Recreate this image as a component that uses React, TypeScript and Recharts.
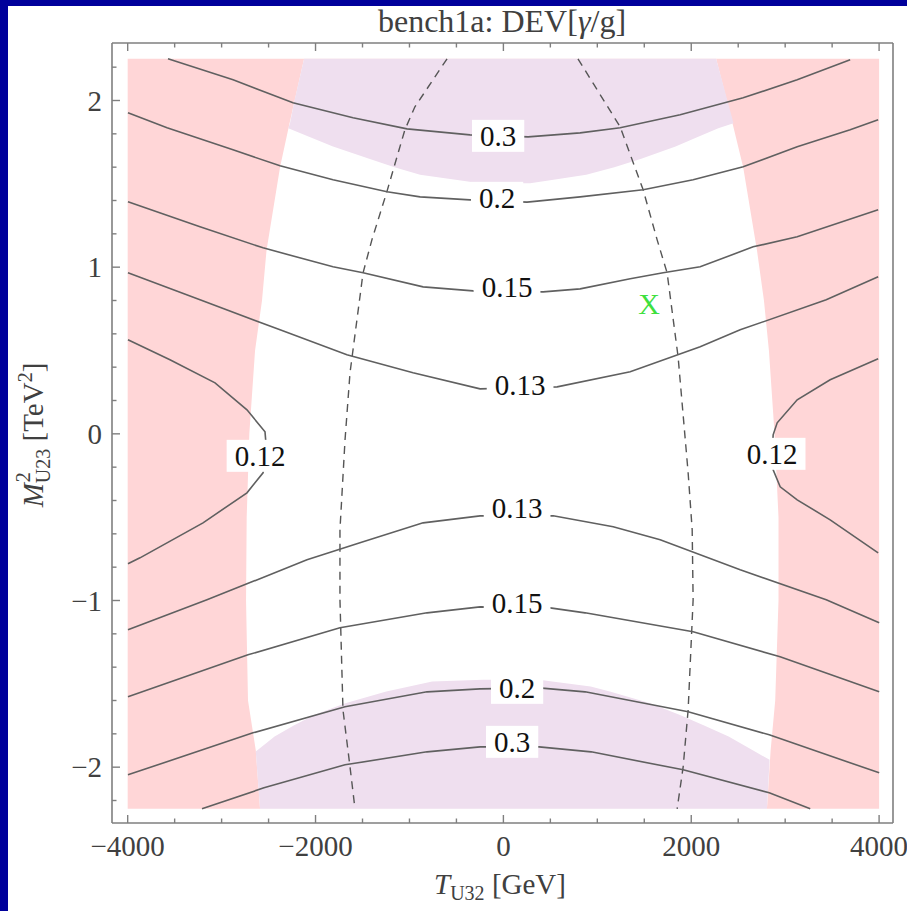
import React from 'react';
import { ComposedChart, Area, Line, Scatter, XAxis, YAxis, ReferenceArea } from 'recharts';

type Pt = [number, number]; // [T_U32 in GeV, M^2_U23 in TeV^2]

// frame window and the sampled parameter range inside it
const X_DOMAIN: [number, number] = [-4167, 4148];
const Y_DOMAIN: [number, number] = [-2.335, 2.345];
const X_SCAN: [number, number] = [-4000, 4000];
const Y_SCAN: [number, number] = [-2.25, 2.25];

const xTicks = [-4000, -3500, -3000, -2500, -2000, -1500, -1000, -500, 0, 500, 1000, 1500, 2000, 2500, 3000, 3500, 4000];
const xLabelTicks = [-4000, -2000, 0, 2000, 4000];
const yTicks = [-2.2, -2, -1.8, -1.6, -1.4, -1.2, -1, -0.8, -0.6, -0.4, -0.2, 0, 0.2, 0.4, 0.6, 0.8, 1, 1.2, 1.4, 1.6, 1.8, 2, 2.2];

// allowed (unshaded) band between the two excluded side regions
const allowedY = [2.25, 1.85, 1.6, 1.1, 0.8, 0.5, 0, -0.5, -1, -1.6, -1.9, -2.25];
const allowedLeft = [-2122, -2282, -2378, -2522, -2570, -2644, -2705, -2733, -2740, -2719, -2636, -2591];
const allowedRight = [2265, 2445, 2553, 2700, 2774, 2827, 2887, 2929, 2929, 2894, 2845, 2806];

// upper and lower violet regions
const topY = [2.25, 2.0, 1.864, 1.834, 1.78, 1.724, 1.65, 1.6, 1.554, 1.52, 1.504];
const topLeft = [-2122, -2224, -2272, -2290, -2056, -1814, -1429, -1159, -887, -452, -248];
const topRight = [2265, 2385, 2450, 2288, 2062, 1833, 1468, 1181, 882, 480, 284];

const bottomY = [-2.25, -1.956, -1.906, -1.816, -1.75, -1.686, -1.616, -1.546, -1.516, -1.486, -1.476];
const bottomLeft = [-2591, -2630, -2636, -2436, -2232, -2010, -1683, -1247, -1002, -758, -214];
const bottomRight = [2806, 2834, 2678, 2398, 2137, 1874, 1562, 1133, 929, 520, 384];

// contour lines of DEV[gamma/g]
const c030Upper: Pt[] = [[-3571, 2.25], [-2878, 2.124], [-2240, 1.986], [-1601, 1.896], [-1026, 1.83], [-355, 1.794], [263, 1.782], [817, 1.806], [1243, 1.836], [1882, 1.914], [2553, 2.016], [3128, 2.124], [3692, 2.244]];
const c020Upper: Pt[] = [[-3997, 1.926], [-3581, 1.836], [-2879, 1.704], [-2378, 1.608], [-1814, 1.524], [-1239, 1.452], [-887, 1.422], [-355, 1.404], [252, 1.39], [817, 1.422], [1488, 1.464], [2020, 1.524], [2553, 1.602], [3128, 1.722], [3692, 1.824], [3990, 1.884]];
const c015Upper: Pt[] = [[-3997, 1.392], [-3230, 1.242], [-2559, 1.116], [-1814, 1.002], [-1494, 0.966], [-855, 0.882], [-323, 0.858], [423, 0.852], [817, 0.87], [1350, 0.93], [1701, 0.966], [2095, 1.002], [2659, 1.122], [3128, 1.182], [3990, 1.344]];
const c013Upper: Pt[] = [[-3997, 0.966], [-3230, 0.804], [-2378, 0.624], [-1666, 0.474], [-962, 0.366], [-248, 0.27], [572, 0.282], [1350, 0.372], [2095, 0.522], [2521, 0.624], [3437, 0.804], [3990, 0.942]];
const c012Left: Pt[] = [[-3997, 0.564], [-3550, 0.444], [-3070, 0.306], [-2730, 0.144], [-2538, 0.012], [-2520, -0.11], [-2559, -0.234], [-2730, -0.354], [-3198, -0.534], [-3869, -0.744], [-3997, -0.78]];
const c012Right: Pt[] = [[3990, 0.45], [3479, 0.324], [3128, 0.204], [2915, 0.066], [2872, -0.006], [2862, -0.11], [2872, -0.216], [2947, -0.318], [3128, -0.396], [3479, -0.516], [3990, -0.714]];
const c013Lower: Pt[] = [[-3997, -1.176], [-3156, -0.996], [-2091, -0.756], [-1527, -0.654], [-855, -0.534], [-248, -0.492], [530, -0.492], [1169, -0.558], [1669, -0.636], [2521, -0.816], [3437, -0.996], [4001, -1.134]];
const c015Lower: Pt[] = [[-3997, -1.578], [-2719, -1.326], [-1740, -1.164], [-813, -1.074], [-248, -1.038], [497, -1.044], [870, -1.074], [2020, -1.188], [2946, -1.338], [4001, -1.548]];
const c020Lower: Pt[] = [[-3997, -2.046], [-2666, -1.794], [-1686, -1.638], [-813, -1.548], [-248, -1.53], [380, -1.524], [870, -1.548], [1967, -1.668], [2830, -1.806], [4001, -2.034]];
const c030Lower: Pt[] = [[-3209, -2.25], [-2549, -2.124], [-1686, -1.986], [-813, -1.908], [-248, -1.878], [380, -1.878], [934, -1.908], [1914, -2.016], [2830, -2.154], [3267, -2.25]];

// dashed boundary curves
const dashLeft: Pt[] = [[-600, 2.25], [-942, 1.962], [-1049, 1.824], [-1241, 1.452], [-1400, 1.164], [-1494, 0.966], [-1633, 0.366], [-1686, -0.036], [-1740, -0.576], [-1740, -0.996], [-1708, -1.656], [-1633, -1.998], [-1580, -2.25]];
const dashRight: Pt[] = [[794, 2.25], [1243, 1.842], [1488, 1.464], [1637, 1.164], [1743, 0.966], [1860, 0.462], [1967, -0.234], [2010, -0.576], [2020, -0.996], [1967, -1.656], [1914, -1.998], [1850, -2.25]];

const contourLabels = [
  { x: -56, y: 1.788, level: 0.3 },
  { x: -67, y: 1.416, level: 0.2 },
  { x: 39, y: 0.882, level: 0.15 },
  { x: 178, y: 0.294, level: 0.13 },
  { x: 146, y: -0.444, level: 0.13 },
  { x: 146, y: -1.014, level: 0.15 },
  { x: 146, y: -1.524, level: 0.2 },
  { x: 93, y: -1.848, level: 0.3 },
  { x: -2591, y: -0.132, level: 0.12 },
  { x: 2861, y: -0.12, level: 0.12 },
];

const benchPoint = [{ x: 1552, y: 0.78 }];

const SERIF = '"Liberation Serif", "Times New Roman", serif';
const FRAME = '#7f7f7f';
const TEXT = '#404040';
const CONTOUR = '#606060';
const PINK = '#ffd6d7';
const VIOLET = '#efdfef';

const rows = (pts: Pt[]) => pts.map(([x, y]) => ({ x, y }));
const spans = (ys: number[], ls: number[], rs: number[]) => ys.map((y, i) => ({ y, span: [ls[i], rs[i]] }));
const fmt = (v: number) => (v < 0 ? '\u2212' + Math.abs(v) : String(v));

const allowedBand = spans(allowedY, allowedLeft, allowedRight);
const topRegion = spans(topY, topLeft, topRight);
const bottomRegion = spans(bottomY, bottomLeft, bottomRight);

const contours = [c030Upper, c020Upper, c015Upper, c013Upper, c012Left, c012Right, c013Lower, c015Lower, c020Lower, c030Lower];

const BottomTick = ({ x, y, payload }: any) => {
  const major = xLabelTicks.includes(payload.value);
  return (
    <g>
      <line x1={x} x2={x} y1={y} y2={y - (major ? 8 : 4.5)} stroke={FRAME} strokeWidth={1.4} />
      {major && (
        <text x={x} y={y + 33} textAnchor="middle" fontFamily={SERIF} fontSize={29} fill={TEXT}>
          {fmt(payload.value)}
        </text>
      )}
    </g>
  );
};

const TopTick = ({ x, y, payload }: any) => {
  const major = xLabelTicks.includes(payload.value);
  return <line x1={x} x2={x} y1={y} y2={y + (major ? 8 : 4.5)} stroke={FRAME} strokeWidth={1.4} />;
};

const LeftTick = ({ x, y, payload }: any) => {
  const major = Number.isInteger(payload.value);
  return (
    <g>
      <line x1={x} x2={x + (major ? 8 : 4.5)} y1={y} y2={y} stroke={FRAME} strokeWidth={1.4} />
      {major && (
        <text x={x - 10} y={y + 10} textAnchor="end" fontFamily={SERIF} fontSize={29} fill={TEXT}>
          {fmt(payload.value)}
        </text>
      )}
    </g>
  );
};

const RightTick = ({ x, y, payload }: any) => {
  const major = Number.isInteger(payload.value);
  return <line x1={x} x2={x - (major ? 8 : 4.5)} y1={y} y2={y} stroke={FRAME} strokeWidth={1.4} />;
};

const ContourTag = ({ cx, cy, payload }: any) => {
  const text = String(payload.level);
  const digits = text.replace('.', '').length;
  const w = digits * 14.5 + 7.25 + 16;
  return (
    <g>
      <rect x={cx - w / 2} y={cy - 16} width={w} height={32} fill="#ffffff" />
      <text x={cx} y={cy + 10} textAnchor="middle" fontFamily={SERIF} fontSize={29} fill="#111111">
        {text}
      </text>
    </g>
  );
};

const BenchMark = ({ cx, cy }: any) => (
  <text x={cx} y={cy + 10} textAnchor="middle" fontFamily={SERIF} fontSize={30} fill="#3ee03e">
    X
  </text>
);

const frameLine = { stroke: FRAME, strokeWidth: 1.6 };

export default function App() {
  return (
    <div style={{ position: 'absolute', left: 0, top: 0, width: 907, height: 911, background: '#00009b', overflow: 'hidden' }}>
      <div style={{ position: 'absolute', left: 8, top: 6, right: 0, bottom: 0, background: '#ffffff' }} />

      <div style={{ position: 'absolute', left: 0, top: 0 }}>
        {/* every axis is 1px thick so the four axis lines form the frame; the margins place the plot box */}
        <ComposedChart
          width={907}
          height={911}
          layout="vertical"
          margin={{ top: 42, right: 13, bottom: 87, left: 111 }}
        >
          <XAxis
            type="number"
            domain={X_DOMAIN}
            allowDataOverflow
            ticks={xTicks}
            interval={0}
            height={1}
            tickSize={0}
            tickMargin={0}
            tickLine={false}
            tick={(p: any) => <BottomTick {...p} />}
            axisLine={frameLine}
          />
          <XAxis
            xAxisId="top"
            orientation="top"
            type="number"
            domain={X_DOMAIN}
            allowDataOverflow
            ticks={xTicks}
            interval={0}
            height={1}
            tickSize={0}
            tickMargin={0}
            tickLine={false}
            tick={(p: any) => <TopTick {...p} />}
            axisLine={frameLine}
          />
          <YAxis
            dataKey="y"
            type="number"
            reversed
            domain={Y_DOMAIN}
            allowDataOverflow
            ticks={yTicks}
            interval={0}
            width={1}
            tickSize={0}
            tickMargin={0}
            tickLine={false}
            tick={(p: any) => <LeftTick {...p} />}
            axisLine={frameLine}
          />
          <YAxis
            yAxisId="right"
            orientation="right"
            type="number"
            reversed
            domain={Y_DOMAIN}
            allowDataOverflow
            ticks={yTicks}
            interval={0}
            width={1}
            tickSize={0}
            tickMargin={0}
            tickLine={false}
            tick={(p: any) => <RightTick {...p} />}
            axisLine={frameLine}
          />

          <ReferenceArea x1={X_SCAN[0]} x2={X_SCAN[1]} y1={Y_SCAN[0]} y2={Y_SCAN[1]} fill={PINK} fillOpacity={1} stroke="none" />
          <Area data={allowedBand} dataKey="span" type="linear" stroke="none" fill="#ffffff" fillOpacity={1} isAnimationActive={false} />
          <Area data={topRegion} dataKey="span" type="linear" stroke="none" fill={VIOLET} fillOpacity={1} isAnimationActive={false} />
          <Area data={bottomRegion} dataKey="span" type="linear" stroke="none" fill={VIOLET} fillOpacity={1} isAnimationActive={false} />

          <Line data={rows(dashLeft)} dataKey="x" type="linear" stroke="#555555" strokeWidth={1.4} strokeDasharray="8 6" dot={false} isAnimationActive={false} />
          <Line data={rows(dashRight)} dataKey="x" type="linear" stroke="#555555" strokeWidth={1.4} strokeDasharray="8 6" dot={false} isAnimationActive={false} />

          {contours.map((c, i) => (
            <Line key={i} data={rows(c)} dataKey="x" type="linear" stroke={CONTOUR} strokeWidth={1.6} dot={false} isAnimationActive={false} />
          ))}

          <Scatter data={contourLabels} dataKey="x" shape={(p: any) => <ContourTag {...p} />} isAnimationActive={false} />
          <Scatter data={benchPoint} dataKey="x" shape={(p: any) => <BenchMark {...p} />} isAnimationActive={false} />
        </ComposedChart>
      </div>

      <div style={{ position: 'absolute', left: 0, top: 1, width: 1004, textAlign: 'center', fontFamily: SERIF, fontSize: 32, lineHeight: '40px', color: TEXT, whiteSpace: 'nowrap' }}>
        bench1a: DEV[<i>γ</i>/g]
      </div>

      <div style={{ position: 'absolute', left: 0, top: 866, width: 1000, textAlign: 'center', fontFamily: SERIF, fontSize: 29, lineHeight: '36px', color: TEXT, whiteSpace: 'nowrap' }}>
        <i>T</i>
        <span style={{ fontSize: 20, position: 'relative', top: 6 }}>U32</span> [GeV]
      </div>

      <div
        style={{
          position: 'absolute',
          left: 34,
          top: 435,
          transform: 'translate(-50%, -50%) rotate(-90deg)',
          fontFamily: SERIF,
          fontSize: 29,
          lineHeight: '36px',
          color: TEXT,
          whiteSpace: 'nowrap',
        }}
      >
        <i>M</i>
        <span style={{ position: 'relative', display: 'inline-block', fontSize: 20 }}>
          <span style={{ position: 'absolute', left: 1, top: -13 }}>2</span>
          <span style={{ position: 'relative', top: 7 }}>U23</span>
        </span>{' '}
        [TeV<span style={{ fontSize: 20, position: 'relative', top: -11 }}>2</span>]
      </div>
    </div>
  );
}
